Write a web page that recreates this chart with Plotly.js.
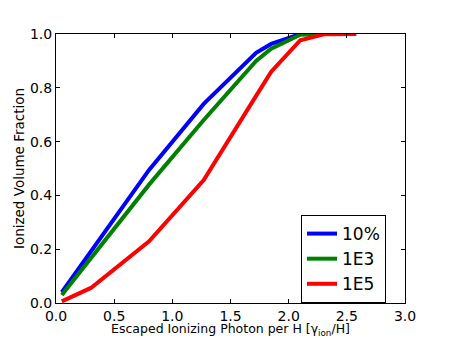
<!DOCTYPE html>
<html>
<head>
<meta charset="utf-8">
<script src="https://cdn.plot.ly/plotly-3.0.1.min.js"></script>
<style>
  html, body { margin: 0; padding: 0; background: #fff; }
  #myGraph { width: 450px; height: 338px; }
</style>
</head>
<body>
<div id="myGraph"></div>
<script>
"use strict";

// escaped ionizing photons per H
var photons = [0.05, 0.3, 0.8, 1.27, 1.72, 1.85, 2.1, 2.3, 2.58];

// ionized volume fraction for each run
var frac10pct = [0.04, 0.19, 0.495, 0.74, 0.93, 0.963, 1.0, 1.0, 1.0];
var frac1e3 = [0.03, 0.165, 0.44, 0.68, 0.90, 0.945, 0.997, 1.0, 1.0];
var frac1e5 = [0.006, 0.056, 0.229, 0.457, 0.77, 0.86, 0.977, 0.999, 1.0];

var names = ['10%', '1E3', '1E5'];
var colors = ['#0000ff', '#008000', '#ff0000'];
var series = [frac10pct, frac1e3, frac1e5];

// build traces
var data = [];
for (var i = 0; i < series.length; i++) {
    data.push({
        x: photons,
        y: series[i],
        mode: 'lines',
        name: names[i],
        line: {color: colors[i], width: 4},
        cliponaxis: false
    });
}

var axisStyle = {
    showline: true,
    linecolor: '#000',
    linewidth: 1,
    mirror: 'ticks',
    ticks: 'inside',
    ticklen: 4,
    tickcolor: '#000',
    showgrid: false,
    zeroline: false,
    tickformat: '.1f',
    tickfont: {family: 'DejaVu Sans', size: 14, color: '#000'}
};

var layout = {
    width: 450,
    height: 338,
    margin: {l: 56, r: 45, t: 34, b: 35},
    paper_bgcolor: '#fff',
    plot_bgcolor: '#fff',
    font: {family: 'DejaVu Sans', color: '#000'},
    xaxis: Object.assign({}, axisStyle, {
        range: [0, 3],
        dtick: 0.5,
        title: {
            text: 'Escaped Ionizing Photon per H [γ<sub>ion</sub>/H]',
            font: {size: 12.5},
            standoff: 5
        }
    }),
    yaxis: Object.assign({}, axisStyle, {
        range: [0, 1],
        dtick: 0.2,
        title: {
            text: 'Ionized Volume Fraction',
            font: {size: 13.5},
            standoff: 2
        }
    }),
    legend: {
        x: 0.702,
        y: 0.327,
        xanchor: 'left',
        yanchor: 'top',
        bordercolor: '#000',
        borderwidth: 1,
        bgcolor: '#fff',
        font: {size: 17},
        tracegroupgap: 4
    },
    showlegend: true
};

Plotly.newPlot('myGraph', data, layout, {displayModeBar: false, staticPlot: true});
</script>
</body>
</html>
